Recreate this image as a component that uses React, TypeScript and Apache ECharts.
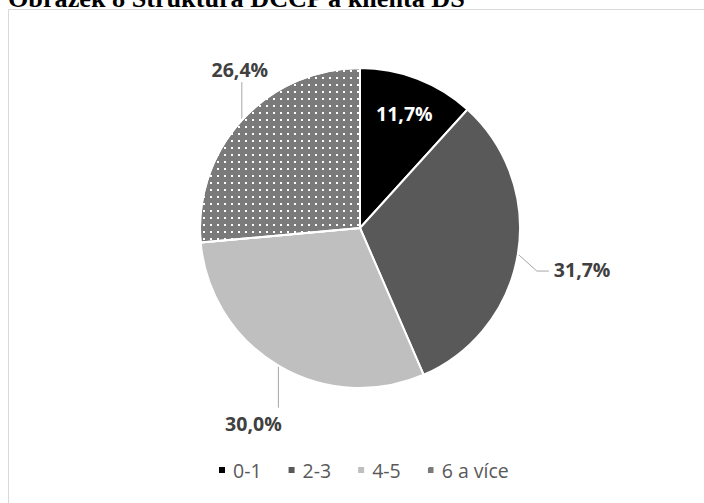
import React, { useEffect, useRef } from "react";
import * as echarts from "echarts";

const titleText = "Obrázek 8 Struktura DCCP a klienta DS";
const categories = ["0-1", "2-3", "4-5", "6 a více"];
const shares = [11.7, 31.7, 30.0, 26.4];
const sliceColors = ["#000000", "#595959", "#bfbfbf", "#7a7a7a"];

const CX = 360;
const CY = 228;
const R = 160;

function fmt(v: number) {
  return v.toFixed(1).replace(".", ",") + "%";
}

export default function App() {
  const ref = useRef<HTMLDivElement>(null);
  useEffect(() => {
    if (!ref.current) return;
    const chart = echarts.init(ref.current, undefined, { renderer: "svg" });
    const total = shares.reduce((a, b) => a + b, 0);
    const mids: number[] = [];
    let acc = 0;
    shares.forEach((v) => {
      mids.push(((acc + v / 2) / total) * Math.PI * 2);
      acc += v;
    });
    const edge = (i: number, rr: number) => [
      CX + rr * Math.sin(mids[i]),
      CY - rr * Math.cos(mids[i]),
    ];

    const labelFont = {
      fontFamily: "Open Sans",
      fontWeight: "bold" as const,
      fontSize: 19.5,
      color: "#404040",
    };

    chart.setOption({
      animation: false,
      backgroundColor: "#ffffff",
      graphic: [
        {
          type: "rect",
          shape: { x: 8.5, y: 9.5, width: 1000, height: 1000 },
          style: { fill: "none", stroke: "#d9d9d9", lineWidth: 1 },
          silent: true,
        },
        {
          type: "text",
          x: 8,
          y: -1.5,
          style: {
            text: titleText,
            font: 'bold 26.2px "Liberation Serif"',
            fill: "#000000",
            verticalAlign: "middle",
            align: "left",
          },
        },
      ],
      legend: {
        data: categories,
        left: 217,
        top: 460,
        padding: 0,
        icon: "rect",
        itemWidth: 8,
        itemHeight: 8,
        itemGap: 25,
        textStyle: { fontFamily: "Open Sans", fontSize: 19.5, color: "#595959", padding: [0, 0, 0, 2] },
      },
      series: [
        {
          type: "pie",
          center: [CX, CY],
          radius: R,
          startAngle: 90,
          clockwise: true,
          itemStyle: { borderColor: "#ffffff", borderWidth: 2 },
          label: { show: true, position: "outside", formatter: (p: any) => fmt(p.value), ...labelFont },
          labelLine: { show: true, length: 20, length2: 10, lineStyle: { color: "#a6a6a6", width: 1 } },
          emphasis: { disabled: true },
          data: categories.map((name, i) => {
            const d: any = { name, value: shares[i], itemStyle: { color: sliceColors[i] } };
            if (i === 0) {
              d.label = { position: "inside", color: "#ffffff" };
              d.labelLine = { show: false };
            }
            if (i === 3) {
              d.itemStyle.decal = {
                symbol: "rect",
                symbolSize: 1,
                color: "#ffffff",
                dashArrayX: [1.4, 4.1],
                dashArrayY: [1.4, 4.1],
                rotation: 0,
              };
            }
            return d;
          }),
          labelLayout: (p: any) => {
            const i = p.dataIndex;
            if (i === 0) {
              const [x, y] = edge(0, R * 0.77);
              return { x, y, align: "center", verticalAlign: "middle" };
            }
            const [ex, ey] = edge(i, R);
            if (i === 1) {
              return {
                x: ex + 36,
                y: ey + 15,
                align: "left",
                verticalAlign: "middle",
                labelLinePoints: [[ex, ey], [ex + 19, ey + 17], [ex + 31, ey + 17]],
              };
            }
            if (i === 2) {
              return {
                x: ex - 25,
                y: ey + 58,
                align: "center",
                verticalAlign: "middle",
                labelLinePoints: [[ex, ey], [ex, ey + 42], [ex, ey + 42]],
              };
            }
            return {
              x: ex - 2,
              y: ey - 51,
              align: "center",
              verticalAlign: "middle",
              labelLinePoints: [[ex, ey], [ex, ey - 38], [ex, ey - 38]],
            };
          },
        },
      ],
    });
    return () => chart.dispose();
  }, []);
  return (
    <div
      ref={ref}
      style={{ position: "absolute", left: 0, top: 0, width: 704, height: 503 }}
    />
  );
}
